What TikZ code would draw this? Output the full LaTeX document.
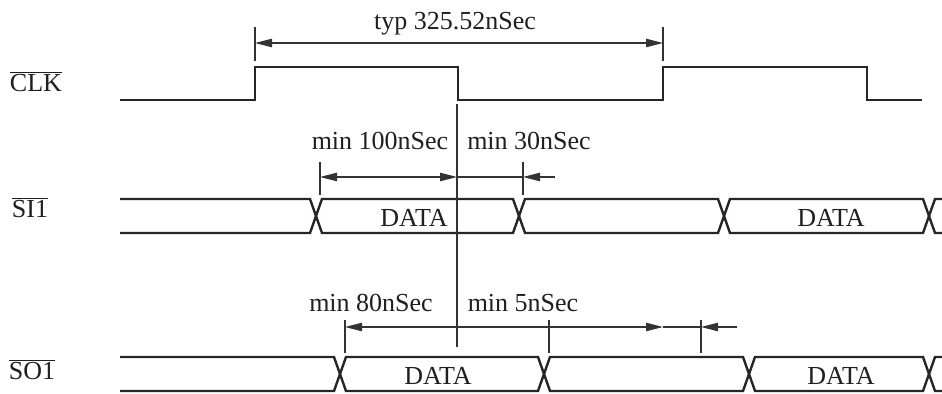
\documentclass[tikz,border=0pt]{standalone}
\usepackage{fontspec}
\setmainfont{Liberation Serif}
\usetikzlibrary{arrows.meta}
\begin{document}
\begin{tikzpicture}[x=0.5pt,y=-0.5pt,
  sig/.style={line width=1.2pt, draw=black!85, line join=miter},
  dim/.style={line width=0.55pt, draw=black!80},
  tipr/.style={-{Triangle[length=8.5pt,width=4.2pt]}},
  tipb/.style={{Triangle[length=8.5pt,width=4.2pt]}-{Triangle[length=8.5pt,width=4.2pt]}},
  lbl/.style={font=\fontsize{13}{15}\selectfont, anchor=base, inner sep=0pt, text=black!88},
]
\useasboundingbox (0,0) rectangle (942,394);

% signal names
\node[lbl] (nclk) at (36,92) {$\overline{\hbox{CLK}}$};
\node[lbl] (nsi) at (30,218) {$\overline{\hbox{SI1}}$};
\node[lbl] (nso) at (32,380) {$\overline{\hbox{SO1}}$};

% CLK waveform
\draw[sig] (120,100) -- (255,100) -- (255,67) -- (458,67) -- (458,100)
  -- (663,100) -- (663,67) -- (867,67) -- (867,100) -- (922,100);

% SI1 bus
\draw[sig] (120,199) -- (310,199) -- (322,233) -- (513,233) -- (525,199) -- (718,199)
  -- (730,233) -- (923,233) -- (935,199) -- (942,199);
\draw[sig] (120,233) -- (310,233) -- (322,199) -- (513,199) -- (525,233) -- (718,233)
  -- (730,199) -- (923,199) -- (935,233) -- (942,233);

% SO1 bus
\draw[sig] (120,357) -- (334,357) -- (346,391) -- (538,391) -- (550,357) -- (743,357)
  -- (755,391) -- (923,391) -- (935,357) -- (942,357);
\draw[sig] (120,391) -- (334,391) -- (346,357) -- (538,357) -- (550,391) -- (743,391)
  -- (755,357) -- (923,357) -- (935,391) -- (942,391);

% data labels
\node[lbl] (d1) at (414,227) {DATA};
\node[lbl] (d2) at (831,227) {DATA};
\node[lbl] (d3) at (438,385) {DATA};
\node[lbl] (d4) at (841,385) {DATA};

% reference coordinates
\coordinate (ref1) at (457,104);
\coordinate (ref2) at (457,347);
\coordinate (t1) at (255,43);
\coordinate (t2) at (663,43);
\coordinate (a1) at (320,177);
\coordinate (a2) at (457,177);
\coordinate (a3) at (523,177);
\coordinate (a4) at (555,177);
\coordinate (b1) at (345,327);
\coordinate (b2) at (457,327);
\coordinate (b3) at (549,327);
\coordinate (b4) at (663,327);
\coordinate (b5) at (701,327);
\coordinate (b6) at (737,327);

% long vertical reference line
\draw[dim] (ref1) -- (ref2);

% top dimension
\draw[dim] (255,27) -- (255,61);
\draw[dim] (663,27) -- (663,61);
\draw[dim, tipb] (t1) -- (t2);
\node[lbl] (ltyp) at (455,30) {typ 325.52nSec};

% SI1 dimensions
\draw[dim] (320,162) -- (320,195);
\draw[dim] (523,162) -- (523,195);
\draw[dim, tipb] (a1) -- (a2);
\draw[dim] (a2) -- (a3);
\draw[dim, tipr] (a4) -- (a3);
\node[lbl] (l100) at (380,150) {min 100nSec};
\node[lbl] (l30) at (529,150) {min 30nSec};

% SO1 dimensions
\draw[dim] (345,320) -- (345,353);
\draw[dim] (549,320) -- (549,353);
\draw[dim] (701,320) -- (701,353);
\draw[dim, tipr] (b2) -- (b1);
\draw[dim, tipr] (b2) -- (b4);
\draw[dim] (b4) -- (b5);
\draw[dim, tipr] (b6) -- (b5);
\node[lbl] (l80) at (371,312) {min 80nSec};
\node[lbl] (l5) at (523,312) {min 5nSec};
\end{tikzpicture}
\end{document}
